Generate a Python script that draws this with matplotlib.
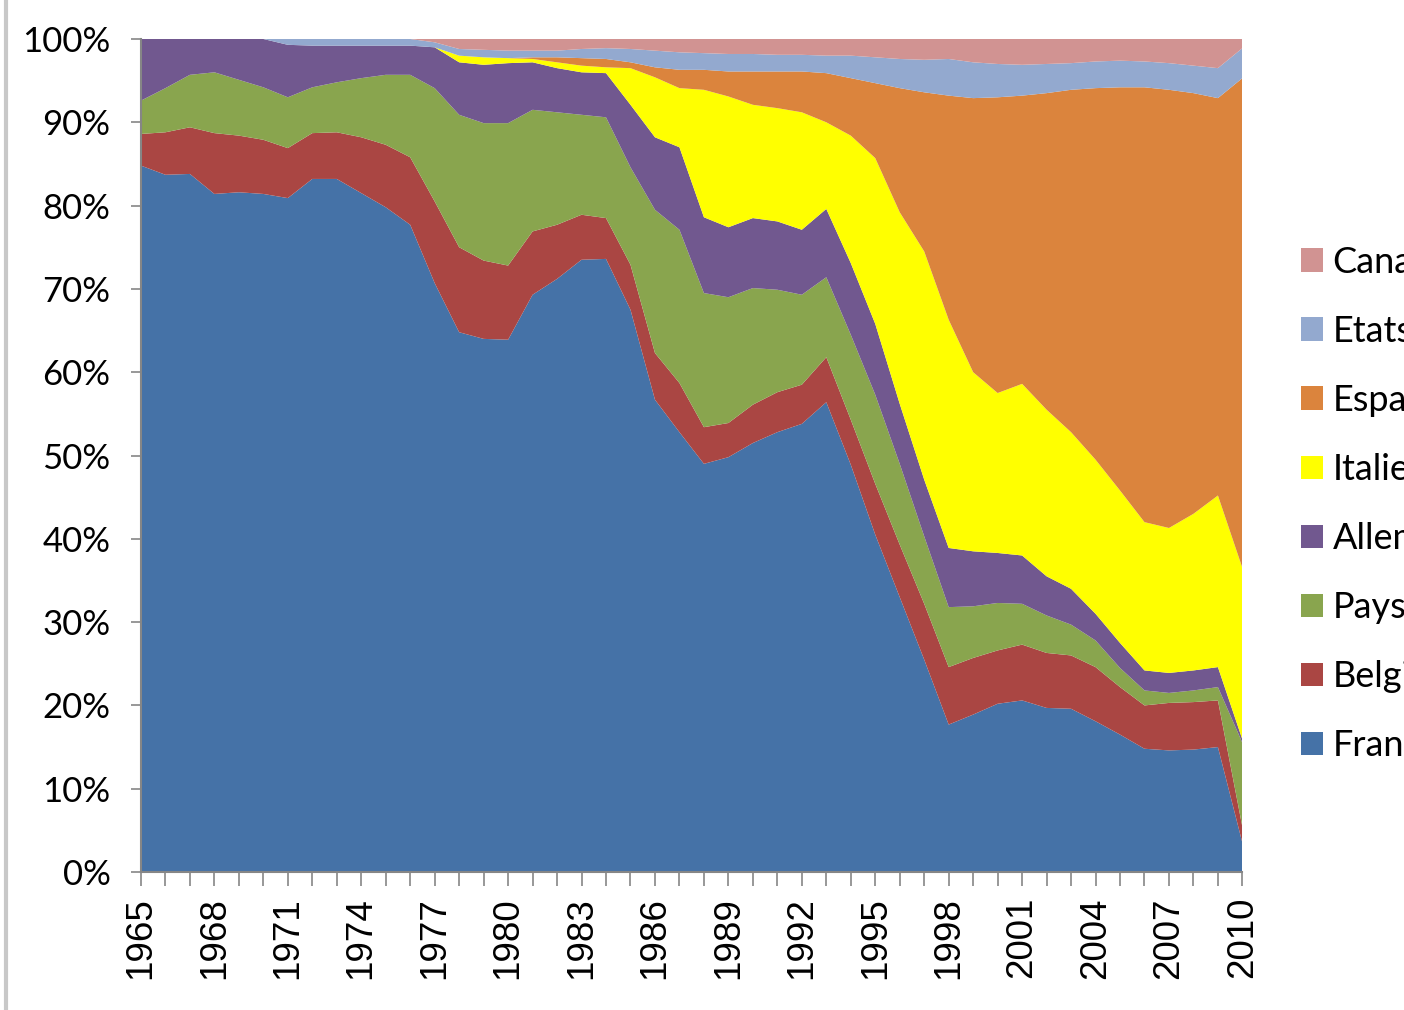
import numpy as np
import matplotlib.pyplot as plt
from matplotlib.patches import Patch
from matplotlib.lines import Line2D
from matplotlib.ticker import FuncFormatter

years = np.arange(1965, 2011)

# parts (%) per year
france = [84.8, 83.7, 83.8, 81.4, 81.6, 81.4, 80.9, 83.2, 83.2, 81.5, 79.8, 77.7,
          70.7, 64.8, 64.0, 63.9, 69.3, 71.2, 73.5, 73.6, 67.5, 56.7, 52.8, 49.0,
          49.8, 51.5, 52.8, 53.8, 56.4, 48.9, 40.5, 33.0, 25.5, 17.7, 18.9, 20.2,
          20.6, 19.7, 19.6, 18.1, 16.5, 14.8, 14.6, 14.7, 15.0, 3.5]
belgique = [3.8, 5.1, 5.6, 7.3, 6.8, 6.5, 6.0, 5.5, 5.6, 6.7, 7.5, 8.1,
            9.8, 10.2, 9.4, 8.9, 7.6, 6.5, 5.4, 4.9, 5.4, 5.6, 5.9, 4.4,
            4.1, 4.6, 4.8, 4.7, 5.4, 5.4, 6.1, 6.3, 6.7, 6.9, 6.8, 6.4,
            6.7, 6.6, 6.4, 6.5, 5.7, 5.2, 5.7, 5.7, 5.6, 1.9]
pays_bas = [4.0, 5.3, 6.3, 7.3, 6.7, 6.3, 6.1, 5.5, 6.0, 7.1, 8.4, 9.9,
            13.6, 15.9, 16.5, 17.1, 14.6, 13.5, 12.0, 12.1, 11.7, 17.2, 18.4, 16.1,
            15.1, 14.0, 12.3, 10.8, 9.6, 10.2, 10.7, 9.7, 8.1, 7.2, 6.2, 5.7,
            4.9, 4.5, 3.7, 3.2, 2.3, 1.8, 1.2, 1.4, 1.6, 10.1]
allemagne = [7.4, 5.9, 4.3, 4.0, 4.9, 5.8, 6.3, 5.0, 4.4, 3.9, 3.5, 3.5,
             4.9, 6.3, 7.0, 7.2, 5.7, 5.3, 5.1, 5.3, 7.5, 8.7, 9.9, 9.1,
             8.4, 8.4, 8.2, 7.8, 8.2, 8.6, 8.5, 7.2, 6.8, 7.1, 6.6, 6.0,
             5.8, 4.7, 4.3, 3.2, 3.0, 2.4, 2.4, 2.4, 2.4, 0.4]
italie = [0, 0, 0, 0, 0, 0, 0, 0, 0, 0, 0, 0,
          0, 0.8, 0.9, 0.6, 0.4, 0.7, 0.8, 0.7, 4.4, 7.2, 7.1, 15.3,
          15.7, 13.6, 13.6, 14.1, 10.4, 15.3, 19.9, 23.0, 27.4, 27.4, 21.5, 19.2,
          20.6, 20.0, 18.8, 18.5, 18.3, 17.8, 17.4, 18.8, 20.6, 20.6]
espagne = [0, 0, 0, 0, 0, 0, 0, 0, 0, 0, 0, 0,
           0, 0, 0, 0, 0.2, 0.6, 0.9, 1.0, 0.7, 1.2, 2.2, 2.4,
           3.0, 4.0, 4.4, 4.9, 5.9, 6.9, 9.0, 14.9, 19.1, 26.9, 32.9, 35.5,
           34.6, 38.0, 41.1, 44.6, 48.4, 52.2, 52.6, 50.5, 47.7, 58.8]
etats_unis = [0, 0, 0, 0, 0, 0, 0.7, 0.8, 0.8, 0.8, 0.8, 0.8,
              0.6, 0.8, 0.9, 0.9, 0.8, 0.8, 1.1, 1.3, 1.6, 2.0, 2.1, 2.0,
              2.1, 2.1, 2.0, 2.0, 2.1, 2.7, 3.1, 3.5, 3.9, 4.4, 4.3, 4.0,
              3.7, 3.5, 3.2, 3.2, 3.2, 3.1, 3.2, 3.3, 3.6, 3.6]
canada = [0, 0, 0, 0, 0, 0, 0, 0, 0, 0, 0, 0,
          0.4, 1.2, 1.3, 1.4, 1.4, 1.4, 1.2, 1.1, 1.2, 1.4, 1.6, 1.7,
          1.8, 1.8, 1.9, 1.9, 2.0, 2.0, 2.2, 2.4, 2.5, 2.4, 2.8, 3.0,
          3.1, 3.0, 2.9, 2.7, 2.6, 2.7, 2.9, 3.2, 3.5, 1.1]

labels = ['France', 'Belgique', 'Pays-Bas', 'Allemagne', 'Italie', 'Espagne',
          'Etats-Unis', 'Canada']
colors = ['#4572A7', '#AA4643', '#89A54E', '#71588F', '#FFFF00', '#DB843D',
          '#93A9CF', '#D19392']

data = np.array([france, belgique, pays_bas, allemagne, italie, espagne,
                 etats_unis, canada], dtype=float)
data = data / data.sum(axis=0) * 100

fig = plt.figure(figsize=(14.04, 10.10), dpi=100)
ax = fig.add_axes([0.1004, 0.1366, 0.7845, 0.8248])
ax.stackplot(years, data, colors=colors, linewidth=0)

ax.set_xlim(1965, 2010)
ax.set_ylim(0, 100)
ax.set_yticks(np.arange(0, 101, 10))
ax.yaxis.set_major_formatter(FuncFormatter(lambda v, p: f'{v:.0f}%'))
ax.set_xticks(years, minor=True)
ax.set_xticks(np.arange(1965, 2011, 3))
ax.set_xticklabels([str(y) for y in range(1965, 2011, 3)], rotation=90,
                   fontsize=26.5, family='Liberation Sans', color='black')
for lab in ax.get_yticklabels():
    lab.set_family('Lato')
    lab.set_fontsize(25)
ax.tick_params(axis='y', length=7, width=1.2, color='#868686', pad=15)
ax.tick_params(axis='x', which='both', length=10, width=1.2, color='#868686', pad=8)

for s in ['top', 'right']:
    ax.spines[s].set_visible(False)
for s in ['left', 'bottom']:
    ax.spines[s].set_color('#868686')
    ax.spines[s].set_linewidth(1.5)

# legend runs past the right edge, as in the original
handles = [Patch(facecolor=c, edgecolor='none') for c in colors]
fig.legend(handles[::-1], labels[::-1], loc='center left',
           bbox_to_anchor=(0.9035, 0.501), frameon=False,
           prop={'family': 'Lato', 'size': 26}, handlelength=0.62,
           handleheight=0.62, handletextpad=0.25, labelspacing=1.0)

# left border of the original screenshot
fig.add_artist(Line2D([0.004, 0.004], [0, 1], color='#c8c8c8', linewidth=3))

fig.savefig('out.png', dpi=100)
